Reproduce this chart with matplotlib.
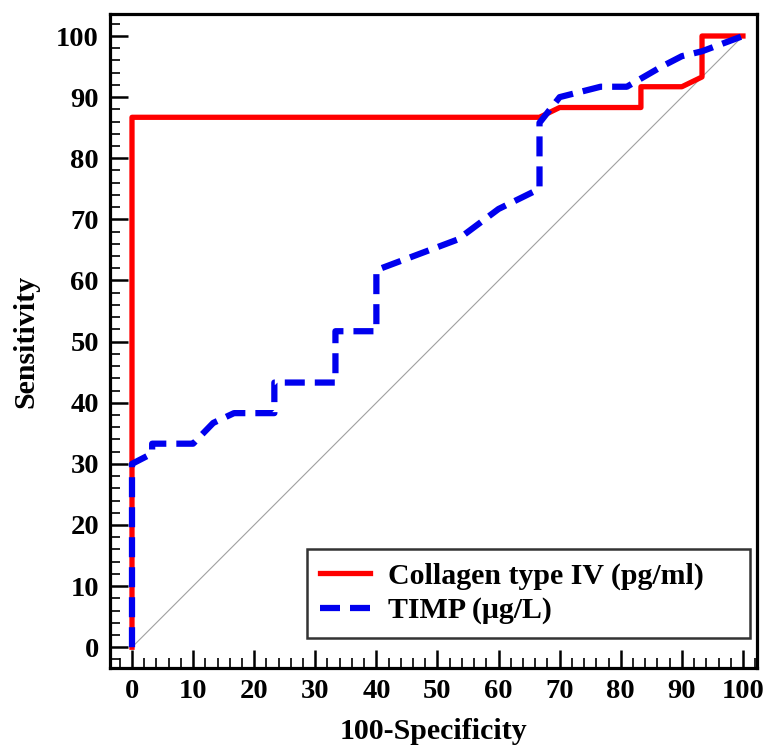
import matplotlib
matplotlib.use("Agg")
import matplotlib.pyplot as plt
from matplotlib.ticker import MultipleLocator

# Data
collagen_x = [0, 0, 66.7, 70, 83.3, 83.3, 90, 93.3, 93.3, 100]
collagen_y = [0, 86.7, 86.7, 88.3, 88.3, 91.7, 91.7, 93.3, 100, 100]

timp_x = [0, 0, 3.3, 3.3, 10, 13.3, 16.7, 23.3, 23.3, 33.3, 33.3, 40, 40,
          53.3, 60, 66.7, 66.7, 70, 76.7, 81, 86.7, 90, 93.3, 100]
timp_y = [0, 30, 31.7, 33.3, 33.3, 36.7, 38.3, 38.3, 43.3, 43.3, 51.7, 51.7, 61.7,
          66.7, 71.7, 75, 85.8, 90, 91.7, 91.7, 95, 96.7, 97.5, 100]

ref_x = [0, 100]
ref_y = [0, 100]

labels = ["Collagen type IV (pg/ml)", "TIMP (\u03bcg/L)"]
ticks = list(range(0, 101, 10))

plt.rcParams['font.family'] = ['Liberation Serif', 'DejaVu Serif']
plt.rcParams['font.weight'] = 'bold'

fig = plt.figure(figsize=(7.67, 7.51), dpi=100)
ax = fig.add_axes([110/767, 1-668/751, (757-110)/767, (668-14)/751])

ax.plot(ref_x, ref_y, color='#a0a0a0', lw=0.8, zorder=1)
ax.plot(collagen_x, collagen_y, color='#ff0000', lw=3.8, label=labels[0], zorder=2)
ax.plot(timp_x, timp_y, color='#0000ee', lw=4.5, ls=(0, (3.2, 1.6)), label=labels[1], zorder=3)

ax.set_xlim(-3.6, 102.3)
ax.set_ylim(-3.4, 103.6)
ax.set_xticks(ticks)
ax.set_yticks(ticks)
ax.xaxis.set_minor_locator(MultipleLocator(2))
ax.yaxis.set_minor_locator(MultipleLocator(2))
ax.tick_params(which='major', direction='in', length=13, width=1.8, labelsize=20.5, pad=8,
               top=False, right=False)
ax.tick_params(which='minor', direction='in', length=7, width=1.2, top=False, right=False)
for lab in ax.get_xticklabels() + ax.get_yticklabels():
    lab.set_fontweight('bold')
for s in ax.spines.values():
    s.set_linewidth(2.3)

ax.set_xlabel("100-Specificity", fontsize=21.5, fontweight='bold', labelpad=10)
ax.set_ylabel("Sensitivity", fontsize=21.5, fontweight='bold', labelpad=12)

leg = ax.legend(loc='lower left', bbox_to_anchor=(0.3045, 0.046, 0.685, 0.1), mode='expand',
                borderaxespad=0, frameon=True, fancybox=False, edgecolor='black',
                handlelength=1.67, handletextpad=0.6, borderpad=0.45, labelspacing=0.25,
                prop={'weight': 'bold', 'size': 21.5})
leg.get_frame().set_linewidth(1.8)

fig.savefig("out.png", dpi=100)
